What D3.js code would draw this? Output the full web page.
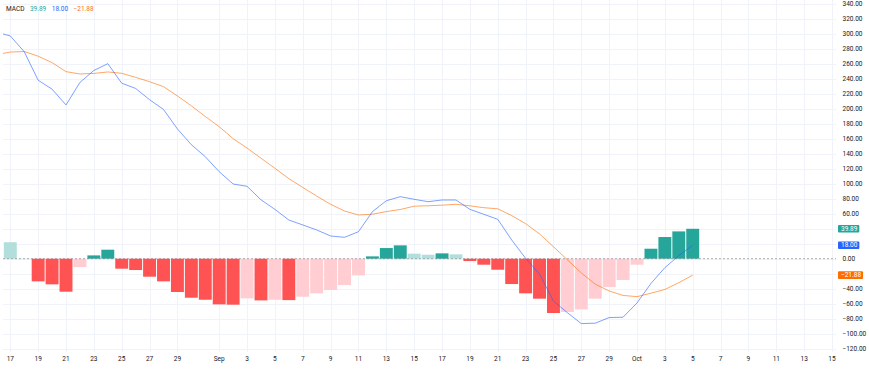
<!DOCTYPE html>
<html>
<head>
<meta charset="utf-8">
<script src="https://cdn.jsdelivr.net/npm/d3@7"></script>
<style>
  html, body { margin: 0; padding: 0; background: #fff; }
  svg { display: block; font-family: Roboto, "Noto Sans", sans-serif; }
</style>
</head>
<body>
<div id="chart"></div>
<script>
// ─── data ─────────────────────────────────────────────────────────
const dates = [
    "2024-08-16", "2024-08-17", "2024-08-18", "2024-08-19", "2024-08-20", "2024-08-21",
    "2024-08-22", "2024-08-23", "2024-08-24", "2024-08-25", "2024-08-26", "2024-08-27",
    "2024-08-28", "2024-08-29", "2024-08-30", "2024-08-31", "2024-09-01", "2024-09-02",
    "2024-09-03", "2024-09-04", "2024-09-05", "2024-09-06", "2024-09-07", "2024-09-08",
    "2024-09-09", "2024-09-10", "2024-09-11", "2024-09-12", "2024-09-13", "2024-09-14",
    "2024-09-15", "2024-09-16", "2024-09-17", "2024-09-18", "2024-09-19", "2024-09-20",
    "2024-09-21", "2024-09-22", "2024-09-23", "2024-09-24", "2024-09-25", "2024-09-26",
    "2024-09-27", "2024-09-28", "2024-09-29", "2024-09-30", "2024-10-01", "2024-10-02",
    "2024-10-03", "2024-10-04", "2024-10-05"
];

// MACD line (blue)
const macdValues = [
    302, 297, 276, 238, 226, 205, 235, 251, 260, 234, 227, 212,
    199, 173, 152, 136, 116, 99.6, 96.5, 78.5, 65.8, 51.6, 45, 38.3,
    30.3, 28.5, 36, 62.7, 77.3, 82.7, 79.2, 76, 78.3, 78.3, 65.8, 59.2,
    52.5, 25, 0.5, -20.5, -56.5, -72, -86.5, -86, -78.5, -78, -59, -33,
    -12, 4, 18.00
];

// signal line (orange)
const signalValues = [
    272, 275.5, 276.3, 270, 261.4, 249.4, 246.3, 247, 249, 247.2, 241.8, 236,
    229.4, 217, 203.8, 189.6, 176, 160, 147.5, 134, 120.5, 106.8, 95, 83.5,
    72.5, 63.6, 58.3, 59.3, 62.8, 65.6, 70, 70.6, 71.4, 72.5, 70.5, 68,
    66.5, 57.5, 46.8, 33, 16, -1.5, -19, -34, -43, -49, -50.6, -46,
    -41, -32, -21.88
];

// histogram
const histValues = [
    30, 22, 0.3, -30.2, -34.2, -44, -11.1, 4.4, 12, -13.3, -15.1, -24,
    -30.2, -44.4, -52, -54.7, -60.9, -61.3, -52.9, -55.6, -54.7, -55.2, -50.7, -46.2,
    -41.8, -35.1, -22.2, 3.1, 14.2, 17.8, 6.7, 5.3, 7.1, 5.8, -3.1, -8,
    -14.7, -33.8, -46.2, -53.3, -72.4, -71.1, -67.6, -53.3, -37.8, -28.4, -8, 13.3,
    28.9, 36.4, 39.89
];

// time axis ticks
const tickDates = [
    "2024-08-17", "2024-08-19", "2024-08-21", "2024-08-23", "2024-08-25", "2024-08-27",
    "2024-08-29", "2024-09-01", "2024-09-03", "2024-09-05", "2024-09-07", "2024-09-09",
    "2024-09-11", "2024-09-13", "2024-09-15", "2024-09-17", "2024-09-19", "2024-09-21",
    "2024-09-23", "2024-09-25", "2024-09-27", "2024-09-29", "2024-10-01", "2024-10-03",
    "2024-10-05", "2024-10-07", "2024-10-09", "2024-10-11", "2024-10-13", "2024-10-15"
];
const tickLabels = [
    "17", "19", "21", "23", "25", "27", "29", "Sep", "3", "5", "7", "9", "11", "13", "15",
    "17", "19", "21", "23", "25", "27", "29", "Oct", "3", "5", "7", "9", "11", "13", "15"
];

// price scale ticks
const priceTicks = [
    -120, -100, -80, -60, -40, -20, 0, 20, 40, 60, 80, 100, 120, 140, 160,
    180, 200, 220, 240, 260, 280, 300, 320, 340
];

const indicatorName = "MACD";

// ─── colour palette ──────────────────────────────────────────────
const macdBlue     = "#2962ff";
const signalOrange = "#ff6d00";
const growAbove    = "#26a69a";
const fallAbove    = "#b2dfdb";
const growBelow    = "#ffcdd2";
const fallBelow    = "#ff5252";
const gridColor    = "#f0f3fa";
const textColor    = "#131722";

// ─── layout ───────────────────────────────────────────────────────
const width  = 869;
const height = 370;
const plot = { left: 3, right: 836, top: 0, bottom: 352 };
const fontSize = 6.5;

const parse = d3.utcParse("%Y-%m-%d");
const fmt = d3.format(".2f");

const rows = dates.map((d, i) => ({
    date: parse(d),
    macd: macdValues[i],
    signal: signalValues[i],
    hist: histValues[i],
    prev: i > 0 ? histValues[i - 1] : histValues[i]
}));

const x = d3.scaleUtc()
    .domain([parse(tickDates[0]), parse(tickDates[tickDates.length - 1])])
    .range([10.3, 832]);

const y = d3.scaleLinear()
    .domain([-120, 340])
    .range([348.7, 3.7]);

const step = x(rows[2].date) - x(rows[1].date);
const barW = step - 1;

// TradingView-style column colouring: compare each bar with the one before
const barColor = d => d.hist >= 0
    ? (d.hist >= d.prev ? growAbove : fallAbove)
    : (d.hist > d.prev ? growBelow : fallBelow);

const svg = d3.select("#chart")
    .append("svg")
    .attr("width", width)
    .attr("height", height)
    .attr("viewBox", `0 0 ${width} ${height}`);

svg.append("defs")
    .append("clipPath")
    .attr("id", "plot-clip")
    .append("rect")
    .attr("x", plot.left)
    .attr("y", plot.top)
    .attr("width", plot.right - plot.left)
    .attr("height", plot.bottom - plot.top);

// ── grid ──────────────────────────────────────────────────────────
const grid = svg.append("g").attr("shape-rendering", "crispEdges");

grid.selectAll("line.vgrid")
    .data(tickDates)
    .join("line")
    .attr("class", "vgrid")
    .attr("x1", d => Math.round(x(parse(d))) + 0.5)
    .attr("x2", d => Math.round(x(parse(d))) + 0.5)
    .attr("y1", plot.top)
    .attr("y2", plot.bottom)
    .attr("stroke", gridColor);

grid.selectAll("line.hgrid")
    .data(priceTicks)
    .join("line")
    .attr("class", "hgrid")
    .attr("x1", plot.left)
    .attr("x2", plot.right)
    .attr("y1", d => Math.round(y(d)) + 0.5)
    .attr("y2", d => Math.round(y(d)) + 0.5)
    .attr("stroke", gridColor);

// ── histogram ─────────────────────────────────────────────────────
const inner = svg.append("g").attr("clip-path", "url(#plot-clip)");

inner.append("g")
    .selectAll("rect")
    .data(rows)
    .join("rect")
    .attr("x", d => x(d.date) - barW / 2)
    .attr("y", d => y(Math.max(0, d.hist)))
    .attr("width", barW)
    .attr("height", d => Math.abs(y(d.hist) - y(0)))
    .attr("fill", barColor);

// zero line
inner.append("line")
    .attr("x1", plot.left)
    .attr("x2", plot.right)
    .attr("y1", y(0))
    .attr("y2", y(0))
    .attr("stroke", "#787b86")
    .attr("stroke-opacity", 0.6)
    .attr("stroke-dasharray", "2,2");

// ── lines ─────────────────────────────────────────────────────────
const lineFor = key => d3.line()
    .x(d => x(d.date))
    .y(d => y(d[key]));

inner.append("path")
    .datum(rows)
    .attr("d", lineFor("signal"))
    .attr("fill", "none")
    .attr("stroke", signalOrange)
    .attr("stroke-opacity", 0.6)
    .attr("stroke-width", 1);

inner.append("path")
    .datum(rows)
    .attr("d", lineFor("macd"))
    .attr("fill", "none")
    .attr("stroke", macdBlue)
    .attr("stroke-opacity", 0.6)
    .attr("stroke-width", 1);

// ── time axis ─────────────────────────────────────────────────────
svg.append("g")
    .selectAll("text")
    .data(tickDates)
    .join("text")
    .attr("x", d => x(parse(d)))
    .attr("y", 358.5)
    .attr("text-anchor", "middle")
    .attr("dominant-baseline", "central")
    .style("font-size", `${fontSize}px`)
    .style("fill", textColor)
    .text((d, i) => tickLabels[i]);

// ── price axis ────────────────────────────────────────────────────
const last = rows[rows.length - 1];
const badges = [
    { value: last.hist,   color: barColor(last) },
    { value: last.macd,   color: macdBlue },
    { value: last.signal, color: signalOrange }
];

// hide tick labels that would sit under a value badge
svg.append("g")
    .selectAll("text")
    .data(priceTicks.filter(t => badges.every(b => Math.abs(y(t) - y(b.value)) > 8)))
    .join("text")
    .attr("x", 842.5)
    .attr("y", d => y(d))
    .attr("dominant-baseline", "central")
    .style("font-size", `${fontSize}px`)
    .style("fill", textColor)
    .text(d => fmt(d));

const badge = svg.append("g")
    .selectAll("g")
    .data(badges)
    .join("g")
    .attr("transform", d => `translate(838, ${y(d.value)})`);

const badgeRect = badge.append("rect")
    .attr("x", 0)
    .attr("y", -3.8)
    .attr("height", 7.6)
    .attr("rx", 1)
    .attr("fill", d => d.color);

const badgeText = badge.append("text")
    .attr("x", 3)
    .attr("y", 0)
    .attr("dominant-baseline", "central")
    .style("font-size", `${fontSize}px`)
    .style("fill", "#fff")
    .text(d => fmt(d.value));

badgeText.each(function () {
    const w = this.getComputedTextLength();
    d3.select(this.parentNode).select("rect").attr("width", w + 5);
});

// ── legend ────────────────────────────────────────────────────────
const legendItems = [
    { text: indicatorName,    color: textColor },
    { text: fmt(last.hist),   color: growAbove },
    { text: fmt(last.macd),   color: macdBlue },
    { text: fmt(last.signal), color: signalOrange }
];

let lx = 6;
legendItems.forEach(item => {
    const t = svg.append("text")
        .attr("x", lx)
        .attr("y", 9)
        .attr("dominant-baseline", "central")
        .style("font-size", `${fontSize}px`)
        .style("fill", item.color)
        .text(item.text);
    lx += t.node().getComputedTextLength() + 5.5;
});
</script>
</body>
</html>
